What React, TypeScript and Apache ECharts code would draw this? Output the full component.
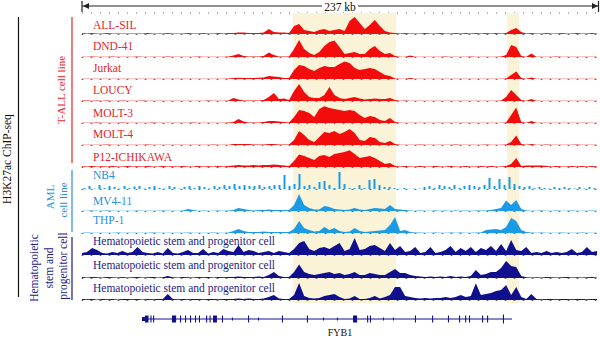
import React, { useEffect, useRef } from "react";
import * as echarts from "echarts";

// ---------- DATA ----------
const SPAN_KB = 237;
const trackNames = [
  "ALL-SIL", "DND-41", "Jurkat", "LOUCY", "MOLT-3", "MOLT-4", "P12-ICHIKAWA",
  "NB4", "MV4-11", "THP-1",
  "Hematopoietic stem and progenitor cell",
  "Hematopoietic stem and progenitor cell",
  "Hematopoietic stem and progenitor cell",
];
const trackGroup = ["tall", "tall", "tall", "tall", "tall", "tall", "tall", "aml", "aml", "aml", "hspc", "hspc", "hspc"];
const trackMark = ["area", "area", "area", "area", "area", "area", "area", "bar", "area", "area", "area", "area", "area"];

// signal per bin (103 bins across the 237 kb window)
const allSil = [
  1, 0.5, 1, 0.5, 0.5, 1, 0.5, 0.5, 0.5, 0.5,
  0.5, 0.5, 0.5, 1, 0.5, 0.5, 0.5, 1, 0.5, 0.5,
  0.5, 1, 0.5, 0.5, 1, 0.5, 0.5, 1, 0.5, 1,
  1, 1.5, 1.5, 1, 1, 1, 1.5, 5, 2, 1.5,
  1.5, 1, 8, 10, 4, 3, 2, 4, 5, 3,
  4, 5, 3, 13, 17, 11, 5, 9, 14, 8,
  3, 1.5, 1, 0.5, 1, 0.5, 0.5, 0.5, 1, 0.5,
  0.5, 1, 0.5, 0.5, 1, 0.5, 1, 0.5, 1, 0.5,
  1, 0.5, 1, 0.5, 1, 4, 6, 2, 0.5, 1,
  0.5, 0.5, 1, 0.5, 0.5, 1, 0.5, 0.5, 1, 0.5,
  0.5, 1, 0.5,
];
const dnd41 = [
  0.3, 0.3, 0.5, 0.3, 0.3, 0.3, 0.5, 0.3, 0.3, 0.3,
  0.3, 0.5, 0.3, 0.3, 0.3, 0.3, 0.3, 0.5, 0.3, 0.3,
  0.3, 0.3, 0.3, 0.5, 0.3, 0.3, 0.3, 0.3, 0.3, 0.5,
  1.5, 3, 1, 0.5, 0.5, 0.5, 1, 4.5, 2, 0.5,
  0.5, 0.5, 8, 17, 8, 4, 2, 5, 11, 15,
  16.5, 10, 3, 4, 5, 3, 3, 8, 11, 6,
  3, 4, 1, 0.3, 0.3, 1.5, 0.3, 0.3, 0.3, 0.3,
  0.3, 0.3, 0.5, 0.3, 0.3, 0.3, 0.3, 0.5, 0.3, 0.3,
  0.3, 0.3, 0.3, 0.5, 2, 12, 10, 1, 0.3, 3.5,
  0.3, 0.3, 0.3, 0.3, 0.5, 0.3, 0.3, 0.3, 0.3, 0.3,
  0.3, 0.3, 0.3,
];
const jurkat = [
  0.3, 0.3, 0.3, 0.3, 0.3, 0.3, 0.3, 0.3, 0.3, 0.3,
  0.3, 0.3, 0.3, 0.3, 0.3, 0.3, 0.3, 0.3, 0.3, 0.3,
  0.3, 0.3, 0.3, 0.3, 0.3, 0.3, 0.3, 0.3, 0.3, 0.5,
  1, 1.2, 1, 1, 1, 1.2, 1.5, 3, 2.5, 2,
  1, 1, 9, 14, 13, 10, 8, 11, 13, 12,
  12, 15, 17.5, 16, 11, 9, 10, 11, 10, 7,
  4, 3, 0.5, 0.3, 0.3, 1, 0.3, 0.3, 0.3, 0.3,
  0.3, 0.3, 0.3, 0.3, 0.3, 0.3, 0.3, 0.3, 0.3, 0.3,
  0.3, 0.3, 0.3, 0.3, 0.5, 4, 7.5, 1, 0.3, 1.5,
  0.3, 0.3, 0.3, 0.3, 0.3, 0.3, 0.3, 0.3, 0.3, 0.3,
  0.3, 0.3, 0.3,
];
const loucy = [
  0.5, 0.5, 0.3, 0.5, 0.3, 0.5, 0.3, 0.3, 0.5, 0.3,
  0.3, 0.3, 0.5, 0.3, 0.3, 0.3, 0.3, 0.3, 0.3, 0.3,
  0.3, 0.3, 0.3, 0.3, 0.3, 0.5, 0.3, 0.3, 0.3, 0.5,
  3, 1.5, 0.5, 0.5, 0.5, 0.5, 1, 4, 8, 2,
  2.5, 1, 10, 17, 9, 4, 3, 3, 6, 14,
  6, 3, 2, 3, 4, 2.5, 1.5, 2, 2.5, 2,
  2, 3, 1, 0.3, 0.5, 0.3, 0.3, 0.3, 0.3, 0.3,
  0.3, 0.3, 0.3, 0.3, 0.3, 0.3, 0.3, 0.3, 0.3, 0.3,
  0.3, 0.3, 0.3, 0.5, 4, 11, 6, 1, 0.3, 2,
  0.3, 0.3, 0.3, 0.3, 0.3, 0.3, 0.3, 0.3, 0.3, 0.3,
  0.3, 0.3, 0.3,
];
const molt3 = [
  0.3, 0.3, 0.3, 0.5, 0.3, 0.3, 0.3, 0.3, 0.5, 0.3,
  0.3, 0.3, 0.3, 0.3, 0.5, 0.3, 0.3, 0.3, 0.3, 0.3,
  0.3, 0.3, 0.5, 0.3, 0.3, 0.3, 0.3, 0.3, 0.3, 0.5,
  1, 4, 1.5, 0.5, 0.5, 0.5, 1, 2, 2, 1.5,
  1, 0.5, 6, 13, 12, 10, 6, 14, 16.7, 15,
  14, 13, 12, 13, 12, 8, 5, 7, 6, 3,
  2, 5, 1, 0.3, 0.3, 0.3, 0.3, 0.3, 0.3, 0.3,
  0.3, 0.3, 0.3, 0.3, 0.3, 0.3, 0.3, 0.3, 0.3, 0.3,
  0.3, 0.3, 0.3, 0.3, 0.5, 8, 15.6, 1, 0.3, 2,
  0.3, 0.3, 0.3, 0.3, 0.3, 0.3, 0.3, 0.3, 0.3, 0.3,
  0.3, 0.3, 0.3,
];
const molt4 = [
  0.3, 0.3, 0.3, 0.3, 0.3, 0.5, 0.3, 0.3, 0.3, 0.3,
  0.3, 0.3, 0.3, 0.5, 0.3, 0.3, 0.3, 0.3, 0.3, 0.3,
  0.3, 0.3, 0.3, 0.3, 0.3, 0.3, 0.5, 0.3, 0.3, 0.3,
  1, 1, 1, 1, 0.5, 0.5, 0.5, 1, 1, 0.5,
  0.5, 0.5, 5, 14, 10, 5, 3, 8, 13, 12,
  14, 11, 13, 16, 12, 5, 4, 8, 7, 3,
  2, 4, 1, 0.3, 0.3, 0.3, 0.3, 0.5, 0.3, 0.3,
  0.3, 0.3, 0.3, 0.3, 0.5, 0.3, 0.3, 0.3, 0.3, 0.3,
  0.5, 0.3, 0.3, 0.3, 0.5, 3, 9.5, 1, 0.3, 1,
  0.3, 0.3, 0.5, 0.3, 0.3, 0.3, 0.3, 0.3, 0.5, 0.3,
  0.3, 0.3, 0.3,
];
const p12Ichikawa = [
  0.8, 0.5, 1, 0.5, 0.8, 0.5, 1, 0.5, 0.5, 1,
  0.5, 0.8, 0.5, 1, 0.5, 0.5, 1, 0.5, 0.8, 0.5,
  1, 0.5, 0.5, 1, 0.5, 0.8, 0.5, 1, 0.5, 1,
  1.5, 2, 1.5, 1.5, 2, 1.5, 2, 2, 2.5, 2,
  1.5, 1, 6, 12.5, 11, 9, 7, 11, 12, 10,
  13, 14, 15, 16.7, 13, 9, 10, 11, 9, 6,
  3, 4, 1, 0.5, 1, 0.5, 0.5, 1, 0.5, 0.5,
  1, 0.5, 0.5, 1, 0.5, 0.5, 1, 0.5, 0.5, 1,
  0.5, 1, 0.5, 0.5, 1, 3, 9, 1, 1.5, 1.5,
  1.5, 1.5, 1, 0.5, 1, 0.5, 0.5, 1, 0.5, 1,
  0.5, 1, 0.5,
];
const nb4 = [
  1, 3, 0.5, 4, 1, 3, 2, 0.5, 3, 1,
  2.5, 3, 0.5, 2, 3, 1, 0.5, 3, 2, 0.5,
  2, 3, 1, 3, 2, 0.5, 3, 2, 4, 3,
  5, 3, 4, 3, 3, 4, 2, 3, 4, 4,
  14, 3, 5, 15, 3, 4, 2, 7, 8, 4,
  1, 17, 5, 1, 1, 4, 1, 9, 10, 4,
  2, 2, 1, 0.3, 1, 0.3, 0.3, 0.5, 2, 3,
  1, 4, 3, 2, 4, 1, 3, 4, 3, 2,
  4, 11, 3, 10, 4, 12, 5, 3, 2, 3,
  1, 2, 1, 0.5, 2, 1, 2, 1, 0.5, 2,
  0.5, 2, 1,
];
const mv411 = [
  0.3, 0.3, 0.5, 0.3, 0.3, 0.5, 0.3, 0.3, 0.3, 0.3,
  0.3, 0.5, 0.3, 0.3, 0.3, 0.3, 0.5, 0.3, 0.3, 0.3,
  0.5, 2, 1, 0.3, 0.5, 0.3, 0.3, 0.5, 0.3, 0.5,
  1, 3, 2, 1, 0.5, 1, 1, 1.5, 1, 1,
  1, 1, 6, 17, 6, 3, 1.5, 1.5, 5, 4,
  2, 1.5, 1, 1.5, 3, 1.5, 1, 2, 3, 2.5,
  2, 6, 2, 1.5, 1, 0.5, 0.3, 0.5, 0.3, 0.3,
  0.5, 0.3, 0.5, 0.3, 0.5, 0.3, 0.5, 0.3, 0.5, 0.5,
  0.5, 1, 2, 3, 10.5, 6, 11, 2, 0.5, 0.3,
  0.3, 0.5, 0.3, 0.3, 0.5, 0.3, 0.3, 0.5, 0.3, 0.3,
  0.3, 0.5, 0.3,
];
const thp1 = [
  0.3, 0.5, 0.3, 0.3, 0.3, 0.3, 0.3, 0.5, 0.3, 0.3,
  0.3, 0.3, 0.3, 0.3, 0.5, 0.3, 0.3, 0.3, 0.3, 0.3,
  0.3, 0.5, 0.3, 0.3, 0.3, 0.3, 0.5, 0.3, 0.3, 0.5,
  2, 4, 2, 1, 1, 1, 1.5, 1, 1, 1,
  1, 1, 4, 12, 5, 3, 1.5, 2, 6, 3,
  5, 2, 1, 1.5, 5, 2, 1, 1.5, 2, 2.5,
  3, 8, 16, 2, 3, 1, 0.5, 0.5, 0.3, 0.3,
  0.5, 0.3, 0.3, 0.5, 0.3, 0.5, 0.3, 0.3, 0.5, 0.5,
  3, 3.5, 4, 3, 6, 15, 12, 3, 1, 0.5,
  0.3, 0.5, 0.3, 0.3, 0.3, 0.5, 0.3, 0.3, 0.3, 0.5,
  0.3, 0.3, 0.3,
];
const hspc1 = [
  2, 3, 7, 5, 2, 1.5, 3, 2, 4, 2,
  3, 8, 3, 2, 1.5, 3, 1.5, 7, 2, 1.5,
  3, 5, 2, 2, 6, 1.5, 3, 2, 6, 4,
  3, 10, 3, 5, 4, 2, 3, 4, 2, 4,
  3, 2, 6, 12, 14, 6, 4, 7, 8, 6,
  9, 12, 4, 6, 17, 5, 6, 9, 10, 7,
  4, 12, 5, 9, 3, 4, 8, 2, 3, 8,
  2, 3, 5, 9, 3, 7, 4, 8, 3, 7,
  5, 9, 4, 11, 4, 15, 5, 4, 8, 2,
  3, 2, 4, 2, 3, 2, 3, 6, 2, 3,
  8, 3, 4,
];
const hspc2 = [
  1, 0.5, 1, 0.7, 0.5, 1, 0.7, 0.5, 1, 0.5,
  0.7, 1, 0.5, 0.7, 1, 0.5, 0.7, 2, 0.7, 0.5,
  1, 0.7, 0.5, 1, 0.7, 1, 0.5, 1, 0.7, 1,
  1, 1.5, 1, 1, 1, 1.5, 1, 3, 6, 2,
  1, 1, 6, 13.5, 6, 4, 3, 4, 5, 6,
  4, 5, 3, 4, 6, 3, 3, 5, 4, 3,
  3, 6, 9, 5, 5, 3, 2, 1.5, 1, 1.5,
  1, 1.5, 1, 2, 1, 1.5, 1, 2, 8, 3,
  4, 6, 6, 10, 17, 12, 11, 2, 0.7, 0.5,
  0.7, 0.5, 1, 0.7, 0.5, 0.7, 1, 0.5, 0.7, 0.5,
  0.7, 1, 0.5,
];
const hspc3 = [
  1, 0.7, 1, 0.5, 1, 0.7, 1, 0.5, 1, 1,
  0.7, 1, 0.5, 1, 0.7, 1, 1, 6, 1, 0.7,
  1, 0.7, 1, 1, 0.7, 1, 1, 0.7, 1, 1,
  1, 1.5, 1, 1.5, 1, 1, 1.5, 3, 5, 1.5,
  1, 1, 5, 17, 4, 2, 1.5, 2, 4, 5,
  6, 3, 1, 1.5, 4, 1, 1, 2, 4, 1.5,
  3, 5, 13, 13, 4, 3, 2, 1.5, 2, 1.5,
  2, 2, 3, 2, 3, 5, 3, 4, 16.7, 5,
  6, 7, 9, 10, 15, 5, 13, 3, 1, 6,
  1, 0.7, 1, 1, 0.7, 1, 1, 0.7, 1, 1,
  0.7, 1, 1,
];
const trackValues = [allSil, dnd41, jurkat, loucy, molt3, molt4, p12Ichikawa, nb4, mv411, thp1, hspc1, hspc2, hspc3];

// highlighted regions (kb)
const highlightStart = [97.1, 195.6];
const highlightEnd = [144.5, 201.1];

// FYB1 gene model (kb)
const geneStartKb = 27.6;
const geneEndKb = 197.9;
const exonStart = [27.6, 29.0, 31.5, 32.7, 41.4, 45.1, 47.4, 49.7, 52.0, 53.8, 57.1, 58.7, 60.3, 64.4, 69.0, 76.4, 81.0, 92.0, 103.5, 110.9, 117.3, 124.7, 131.2, 132.5, 138.5, 143.1, 153.2, 161.1, 168.4, 173.5, 176.3, 178.1, 184.1, 186.4, 193.7];
const exonEnd = [29.0, 30.6, 32.0, 33.2, 43.3, 45.6, 47.9, 50.2, 52.5, 54.3, 57.6, 59.2, 62.1, 64.9, 69.4, 76.9, 81.4, 92.5, 104.0, 111.3, 117.7, 126.6, 131.7, 133.0, 138.9, 143.5, 153.7, 161.6, 168.9, 174.0, 176.8, 178.6, 184.6, 186.9, 194.2];
const exonKind = ["utr", "cds", "cds", "cds", "cds", "cds", "cds", "cds", "cds", "cds", "cds", "cds", "cds", "cds", "mark", "cds", "mark", "cds", "cds", "mark", "mark", "cds", "cds", "cds", "mark", "mark", "cds", "cds", "cds", "cds", "cds", "cds", "cds", "cds", "tall"];

// ---------- LAYOUT ----------
const X0 = 82;
const X1 = 597;
const TRACK_H = 18;
const BASELINES = [34, 57, 79, 101, 123, 145, 167, 189, 211, 233, 255, 278, 300];
const LABEL_Y = [25, 46, 68, 90, 113, 134, 157, 175, 201, 220, 241, 265, 288];
const SERIF = "'Liberation Serif', 'DejaVu Serif', serif";
const COLORS: Record<string, { sig: string; text: string }> = {
  tall: { sig: "#f20c0c", text: "#e3262b" },
  aml: { sig: "#1b9be6", text: "#2a8fdc" },
  hspc: { sig: "#10108e", text: "#1c1c84" },
};
const KIND_H: Record<string, number> = { utr: 4, cds: 7, mark: 3, tall: 9 };

export default function App() {
  const ref = useRef<HTMLDivElement>(null);
  useEffect(() => {
    if (!ref.current) return;
    const chart = echarts.init(ref.current, undefined, { renderer: "svg" });
    const nBins = allSil.length;
    const bins = Array.from({ length: nBins }, (_, i) => String(i));

    const grids: any[] = [{ left: X0, width: X1 - X0, top: 13, height: 290 }];
    const xAxes: any[] = [{ type: "value", gridIndex: 0, min: 0, max: SPAN_KB, show: false }];
    const yAxes: any[] = [{ type: "value", gridIndex: 0, min: 0, max: 1, show: false }];
    const series: any[] = [
      {
        type: "custom",
        xAxisIndex: 0,
        yAxisIndex: 0,
        z: 0,
        silent: true,
        data: highlightStart.map((s, i) => [s, highlightEnd[i]]),
        renderItem: (_p: any, api: any) => {
          const a = api.coord([api.value(0), 1]);
          const b = api.coord([api.value(1), 0]);
          return {
            type: "rect",
            shape: { x: a[0], y: a[1], width: b[0] - a[0], height: b[1] - a[1] },
            style: { fill: "#fbf3d7" },
          };
        },
      },
    ];

    trackValues.forEach((vals, k) => {
      const gi = k + 1;
      const col = COLORS[trackGroup[k]];
      grids.push({ left: X0, width: X1 - X0, top: BASELINES[k] - TRACK_H, height: TRACK_H });
      xAxes.push({
        type: "category",
        gridIndex: gi,
        data: bins,
        boundaryGap: trackMark[k] === "bar",
        axisLine: { show: true, lineStyle: { color: "#666", width: 1, type: [1, 8] } },
        axisTick: { show: false },
        axisLabel: { show: false },
        splitLine: { show: false },
      });
      yAxes.push({ type: "value", gridIndex: gi, min: 0, max: TRACK_H, show: false });
      if (trackMark[k] === "bar") {
        series.push({
          type: "bar",
          xAxisIndex: gi,
          yAxisIndex: gi,
          data: vals,
          barWidth: 2,
          silent: true,
          z: 3,
          itemStyle: { color: col.sig },
        });
      } else {
        series.push({
          type: "line",
          xAxisIndex: gi,
          yAxisIndex: gi,
          data: vals,
          symbol: "none",
          smooth: false,
          silent: true,
          z: 3,
          lineStyle: { color: col.sig, width: 0, opacity: 0 },
          areaStyle: { color: col.sig, opacity: 1 },
        });
      }
    });

    const gi = trackValues.length + 1;
    grids.push({ left: X0, width: X1 - X0, top: 312, height: 14 });
    xAxes.push({ type: "value", gridIndex: gi, min: 0, max: SPAN_KB, show: false });
    yAxes.push({ type: "value", gridIndex: gi, min: -1, max: 1, show: false });
    series.push({
      type: "custom",
      xAxisIndex: gi,
      yAxisIndex: gi,
      silent: true,
      data: [[geneStartKb, geneEndKb]],
      renderItem: (_p: any, api: any) => {
        const a = api.coord([api.value(0), 0]);
        const b = api.coord([api.value(1), 0]);
        return {
          type: "line",
          shape: { x1: a[0], y1: a[1], x2: b[0], y2: b[1] },
          style: { stroke: "#10108e", lineWidth: 1 },
        };
      },
    });
    series.push({
      type: "custom",
      xAxisIndex: gi,
      yAxisIndex: gi,
      silent: true,
      data: exonStart.map((s, i) => [s, exonEnd[i], i]),
      renderItem: (_p: any, api: any) => {
        const a = api.coord([api.value(0), 0]);
        const b = api.coord([api.value(1), 0]);
        const h = KIND_H[exonKind[api.value(2)]];
        const w = Math.max(1, b[0] - a[0]);
        return {
          type: "rect",
          shape: { x: a[0], y: a[1] - h / 2, width: w, height: h },
          style: { fill: "#10108e" },
        };
      },
    });

    const graphic: any[] = [];
    // scale bar
    graphic.push(
      { type: "line", shape: { x1: 82, y1: 6, x2: 322, y2: 6 }, style: { stroke: "#222", lineWidth: 1.2 } },
      { type: "line", shape: { x1: 358, y1: 6, x2: 598, y2: 6 }, style: { stroke: "#222", lineWidth: 1.2 } },
      { type: "line", shape: { x1: 82, y1: 1, x2: 82, y2: 12 }, style: { stroke: "#222", lineWidth: 1.2 } },
      { type: "line", shape: { x1: 598.5, y1: 1, x2: 598.5, y2: 12 }, style: { stroke: "#222", lineWidth: 1.2 } },
      { type: "polygon", shape: { points: [[83, 6], [89, 3], [89, 9]] }, style: { fill: "#222" } },
      { type: "polygon", shape: { points: [[598, 6], [592, 3], [592, 9]] }, style: { fill: "#222" } },
      {
        type: "text", x: 340, y: 7,
        style: { text: "237 kb", fill: "#111", fontSize: 11.5, fontFamily: SERIF, align: "center", verticalAlign: "middle" },
      },
      { type: "line", shape: { x1: 82, y1: 13, x2: 597, y2: 13 }, style: { stroke: "#666", lineWidth: 1, lineDash: [1, 8] } }
    );
    // track labels
    trackNames.forEach((name, k) => {
      graphic.push({
        type: "text", x: 93, y: LABEL_Y[k], z: 10,
        style: {
          text: name, fill: COLORS[trackGroup[k]].text, fontSize: 11.5, fontFamily: SERIF,
          align: "left", verticalAlign: "middle",
        },
      });
    });
    // left annotations
    const rot = (text: string, x: number, y: number, fill: string, size = 11.5) => ({
      type: "text", x, y, rotation: Math.PI / 2,
      style: { text, fill, fontSize: size, fontFamily: SERIF, align: "center", verticalAlign: "middle" },
    });
    graphic.push(
      { type: "line", shape: { x1: 18.5, y1: 17, x2: 18.5, y2: 297 }, style: { stroke: "#111", lineWidth: 1.2 } },
      rot("H3K27ac ChIP-seq", 7, 159, "#111"),
      { type: "line", shape: { x1: 72, y1: 17, x2: 72, y2: 163 }, style: { stroke: "#e3262b", lineWidth: 1.2 } },
      rot("T-ALL cell line", 61, 90, "#e3262b", 11),
      { type: "line", shape: { x1: 72, y1: 170, x2: 72, y2: 232 }, style: { stroke: "#2a8fdc", lineWidth: 1.2 } },
      rot("AML", 50, 197, "#2a8fdc", 11),
      rot("cell line", 63, 200, "#2a8fdc", 11),
      { type: "line", shape: { x1: 72, y1: 237, x2: 72, y2: 300 }, style: { stroke: "#1c1c84", lineWidth: 1.2 } },
      rot("Hematopoietic", 34, 268, "#1c1c84"),
      rot("stem and", 49, 268, "#1c1c84"),
      rot("progenitor cell", 63, 266, "#1c1c84"),
      {
        type: "text", x: 340, y: 332,
        style: { text: "FYB1", fill: "#111", fontSize: 10, fontFamily: SERIF, align: "center", verticalAlign: "middle" },
      }
    );

    chart.setOption({
      animation: false,
      backgroundColor: "#ffffff",
      grid: grids,
      xAxis: xAxes,
      yAxis: yAxes,
      series,
      graphic,
    });
    return () => chart.dispose();
  }, []);
  return (
    <div
      ref={ref}
      style={{ position: "fixed", left: 0, top: 0, width: 600, height: 338, background: "#fff" }}
    />
  );
}
